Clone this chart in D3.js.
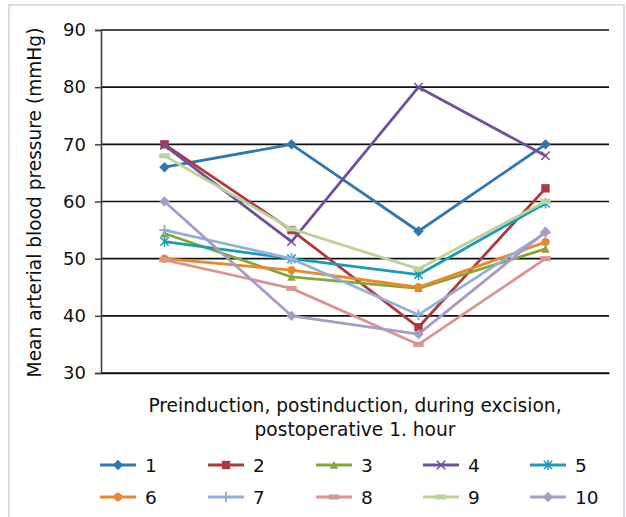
<!DOCTYPE html>
<html><head><meta charset="utf-8">
<script src="https://cdn.jsdelivr.net/npm/d3@7"></script>
<style>html,body{margin:0;padding:0;background:#fff;}svg{display:block;}</style>
</head><body>
<svg id="chart" width="626" height="517"></svg>
<script>
const categories = ["Preinduction", "Postinduction", "During excision", "Postoperative 1. hour"];
const seriesNames = ["1","2","3","4","5","6","7","8","9","10"];
const s1  = [66, 70, 54.8, 70];
const s2  = [70, 55, 38, 62.3];
const s3  = [54.4, 46.8, 44.8, 51.7];
const s4  = [69.8, 53, 80, 68];
const s5  = [53, 50, 47.2, 59.7];
const s6  = [50, 48, 45, 52.9];
const s7  = [55, 50, 40.2, 54.5];
const s8  = [49.8, 44.8, 35, 50];
const s9  = [68, 55.2, 48.2, 60];
const s10 = [60, 40, 36.8, 54.7];
const yTicks = [30, 40, 50, 60, 70, 80, 90];
const yTitle = "Mean arterial blood pressure (mmHg)";
const xTitle = ["Preinduction, postinduction, during excision,", "postoperative 1. hour"];

const seriesValues = [s1,s2,s3,s4,s5,s6,s7,s8,s9,s10];
const colors = ["#3277B0","#B0393B","#87A63A","#6F509A","#1A9CB4","#E8892B","#93B0DC","#DA9593","#BBD39A","#A99BC6"];
const markers = ["diamond","square","triangle","x","asterisk","circle","plus","dash","dash","diamond"];

const svg = d3.select("#chart");
const font = "'DejaVu Sans', Verdana, sans-serif";

// outer border
svg.append("rect").attr("x", 9).attr("y", 5).attr("width", 615).attr("height", 520)
  .attr("fill", "none").attr("stroke", "#DCDCEE").attr("stroke-width", 2);

const L = 101, R = 609, T = 30, B = 373;
const x = d3.scalePoint().domain(categories).range([L, R]).padding(0.5);
const y = d3.scaleLinear().domain([30, 90]).range([B, T]);

// gridlines
svg.append("g").selectAll("line").data(yTicks).join("line")
  .attr("x1", L).attr("x2", R).attr("y1", d => y(d)).attr("y2", d => y(d))
  .attr("stroke", "#111").attr("stroke-width", 1.6);

// y axis
const yAxis = d3.axisLeft(y).tickValues(yTicks).tickSize(6).tickPadding(9);
const gy = svg.append("g").attr("transform", `translate(${L},0)`).call(yAxis);
gy.select(".domain").attr("stroke", "#404040").attr("stroke-width", 1.6);
gy.selectAll(".tick line").attr("stroke", "#404040").attr("stroke-width", 1.5);
gy.selectAll(".tick text").attr("font-family", font).attr("font-size", 18).attr("fill", "#111");

// x axis line (no labels)
const xAxis = d3.axisBottom(x).tickSize(0).tickFormat("");
const gx = svg.append("g").attr("transform", `translate(0,${B})`).call(xAxis);
gx.select(".domain").attr("stroke", "#111").attr("stroke-width", 1.6);

// titles
svg.append("text").attr("transform", `translate(41,${(T+B)/2 + 1}) rotate(-90)`)
  .attr("text-anchor", "middle").attr("font-family", font).attr("font-size", 18.6)
  .attr("fill", "#111").text(yTitle);
svg.append("text").attr("x", 355).attr("y", 412).attr("text-anchor", "middle")
  .attr("font-family", font).attr("font-size", 18.6).attr("fill", "#111").text(xTitle[0]);
svg.append("text").attr("x", 355).attr("y", 436).attr("text-anchor", "middle")
  .attr("font-family", font).attr("font-size", 18.6).attr("fill", "#111").text(xTitle[1]);

function drawMarker(g, type, color, cx, cy) {
  const s = 4.2;
  if (type === "diamond") {
    g.append("path").attr("d", `M${cx},${cy-s-1}L${cx+s+1},${cy}L${cx},${cy+s+1}L${cx-s-1},${cy}Z`).attr("fill", color);
  } else if (type === "square") {
    g.append("rect").attr("x", cx-s).attr("y", cy-s).attr("width", 2*s).attr("height", 2*s).attr("fill", color);
  } else if (type === "triangle") {
    g.append("path").attr("d", `M${cx},${cy-s}L${cx+s},${cy+s-0.5}L${cx-s},${cy+s-0.5}Z`).attr("fill", color);
  } else if (type === "circle") {
    g.append("circle").attr("cx", cx).attr("cy", cy).attr("r", s).attr("fill", color);
  } else if (type === "x") {
    g.append("path").attr("d", `M${cx-s},${cy-s}L${cx+s},${cy+s}M${cx-s},${cy+s}L${cx+s},${cy-s}`)
      .attr("stroke", color).attr("stroke-width", 1.5);
  } else if (type === "asterisk") {
    g.append("path").attr("d", `M${cx-s},${cy-s}L${cx+s},${cy+s}M${cx-s},${cy+s}L${cx+s},${cy-s}M${cx},${cy-s-1}L${cx},${cy+s+1}`)
      .attr("stroke", color).attr("stroke-width", 1.5);
  } else if (type === "plus") {
    g.append("path").attr("d", `M${cx-s-1},${cy}L${cx+s+1},${cy}M${cx},${cy-s-1}L${cx},${cy+s+1}`)
      .attr("stroke", color).attr("stroke-width", 2);
  } else if (type === "dash") {
    g.append("rect").attr("x", cx-s-1).attr("y", cy-2.5).attr("width", 2*s+2).attr("height", 5).attr("fill", color);
  }
}

const line = d3.line().x((d, i) => x(categories[i])).y(d => y(d));
seriesValues.forEach((vals, k) => {
  const g = svg.append("g");
  g.append("path").datum(vals).attr("d", line).attr("fill", "none")
    .attr("stroke", colors[k]).attr("stroke-width", 2.8).attr("stroke-linejoin", "round");
  vals.forEach((v, i) => drawMarker(g, markers[k], colors[k], x(categories[i]), y(v)));
});

// legend
const legX = [100, 208, 316, 423, 530];
const legY = [465, 497];
seriesNames.forEach((name, k) => {
  const col = k % 5, row = Math.floor(k / 5);
  const lx = legX[col], ly = legY[row];
  const g = svg.append("g");
  g.append("line").attr("x1", lx).attr("x2", lx + 36).attr("y1", ly).attr("y2", ly)
    .attr("stroke", colors[k]).attr("stroke-width", 2.8);
  drawMarker(g, markers[k], colors[k], lx + 18, ly);
  g.append("text").attr("x", lx + 45).attr("y", ly + 7).attr("font-family", font)
    .attr("font-size", 18.5).attr("fill", "#111").text(name);
});
</script>
</body></html>
